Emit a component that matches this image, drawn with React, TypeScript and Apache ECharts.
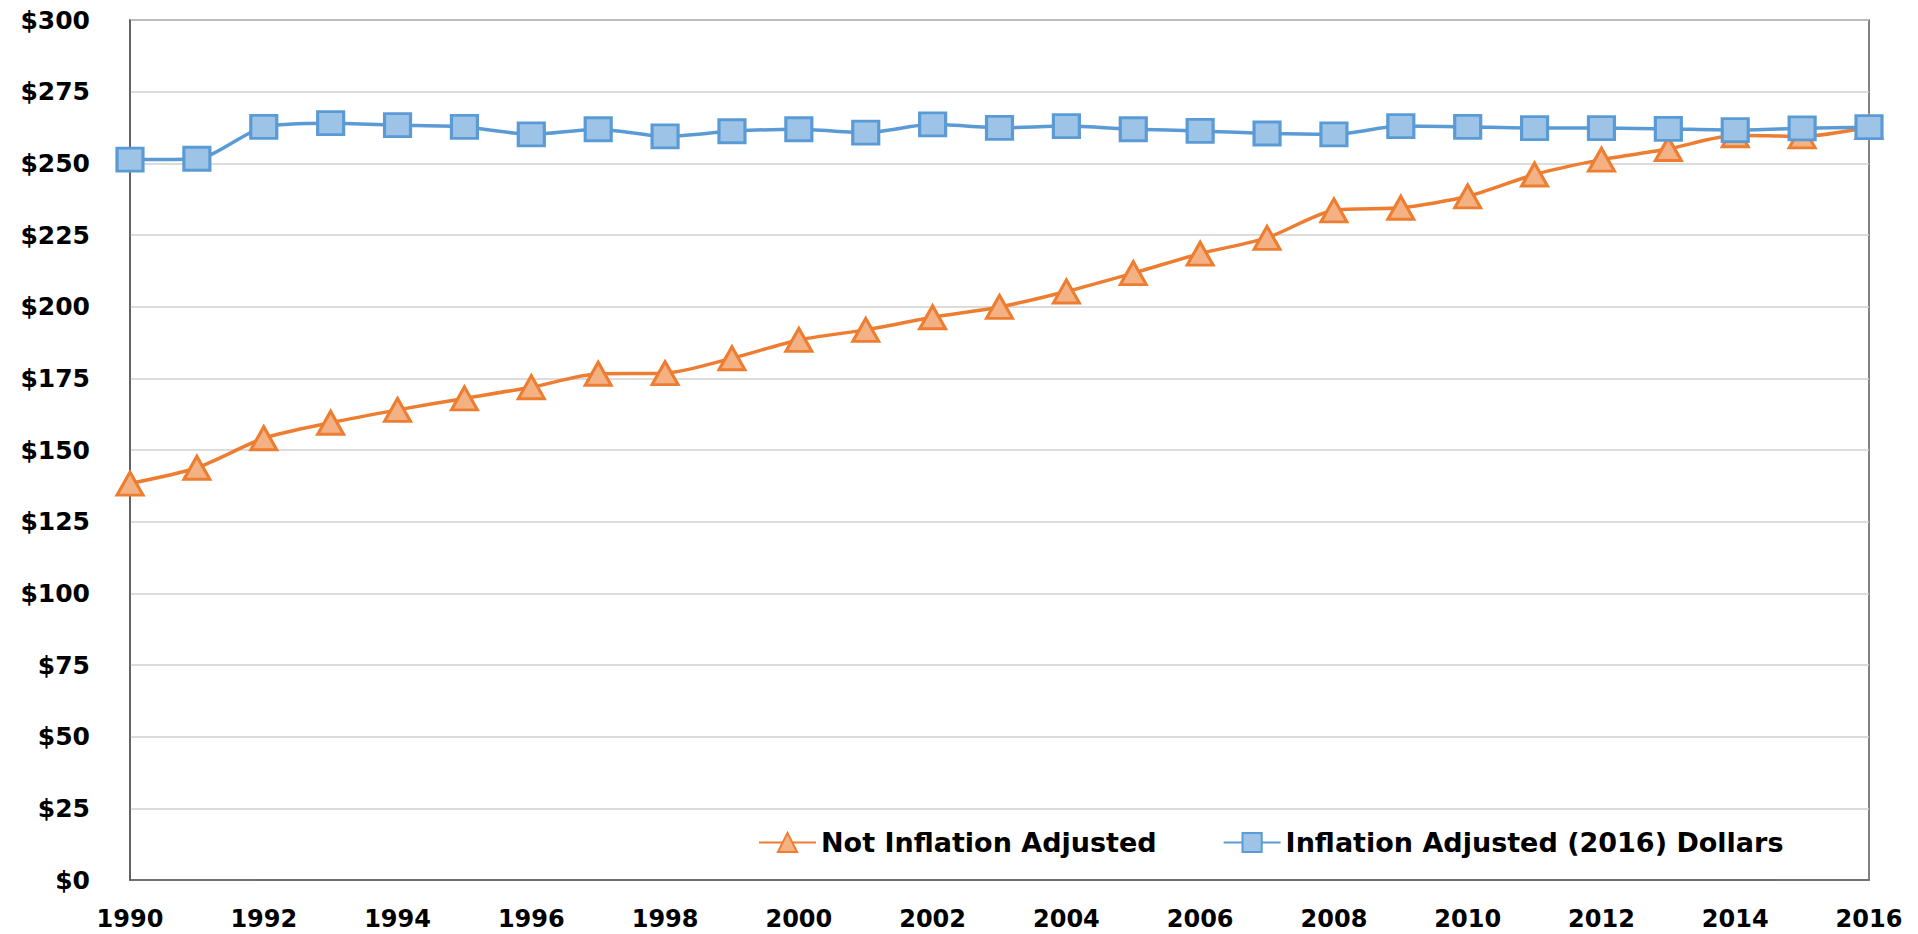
import React, { useEffect, useRef } from "react";
import * as echarts from "echarts";

const years: string[] = [
  "1990", "1991", "1992", "1993", "1994", "1995", "1996", "1997", "1998",
  "1999", "2000", "2001", "2002", "2003", "2004", "2005", "2006", "2007",
  "2008", "2009", "2010", "2011", "2012", "2013", "2014", "2015", "2016",
];

const notInflationAdjusted: number[] = [
  138.3, 143.8, 154.1, 159.5, 164.0, 168.0, 171.9, 176.6, 176.8,
  182.0, 188.4, 191.9, 196.3, 199.9, 205.3, 211.7, 218.5, 224.0,
  233.6, 234.5, 238.5, 246.1, 251.3, 255.0, 259.8, 259.4, 262.6,
];

const inflationAdjusted: number[] = [
  251.3, 251.6, 262.7, 264.0, 263.3, 262.7, 260.1, 261.9, 259.4,
  261.2, 261.9, 260.7, 263.6, 262.4, 263.0, 261.9, 261.3, 260.4,
  260.1, 263.0, 262.7, 262.3, 262.3, 262.0, 261.6, 262.2, 262.6,
];

const seriesNames: string[] = [
  "Not Inflation Adjusted",
  "Inflation Adjusted (2016) Dollars",
];

const FONT = "'DejaVu Sans', 'Liberation Sans', sans-serif";

export default function App() {
  const ref = useRef<HTMLDivElement>(null);

  useEffect(() => {
    if (!ref.current) return;
    const chart = echarts.init(ref.current, undefined, { renderer: "svg" });
    chart.setOption({
      animation: false,
      backgroundColor: "#ffffff",
      grid: {
        left: 130,
        right: 49,
        top: 20,
        bottom: 54,
        show: true,
        borderColor: "#595959",
        borderWidth: 1.5,
        containLabel: false,
      },
      legend: {
        left: 753,
        top: 824,
        itemWidth: 57,
        itemHeight: 24,
        itemGap: 66,
        textStyle: {
          fontFamily: FONT,
          fontWeight: "bold",
          fontSize: 27,
          color: "#000000",
        },
        data: seriesNames,
      },
      xAxis: {
        type: "category",
        data: years,
        boundaryGap: false,
        axisLine: { show: true, lineStyle: { color: "#595959", width: 1.5 } },
        axisTick: { show: false },
        splitLine: { show: false },
        axisLabel: {
          interval: 1,
          margin: 27,
          fontFamily: FONT,
          fontWeight: "bold",
          fontSize: 24,
          color: "#000000",
        },
      },
      yAxis: {
        type: "value",
        min: 0,
        max: 300,
        interval: 25,
        axisLine: { show: true, lineStyle: { color: "#595959", width: 1.5 } },
        axisTick: { show: false },
        splitLine: { show: true, lineStyle: { color: "#D0D0D0", width: 1.5 } },
        axisLabel: {
          margin: 40,
          fontFamily: FONT,
          fontWeight: "bold",
          fontSize: 25,
          color: "#000000",
          formatter: (v: number) => "$" + v,
        },
      },
      series: [
        {
          name: seriesNames[0],
          type: "line",
          data: notInflationAdjusted,
          smooth: 0.25,
          symbol: "triangle",
          symbolSize: [26, 23],
          z: 2,
          lineStyle: { color: "#ED7D31", width: 3.5 },
          itemStyle: { color: "#F4B183", borderColor: "#ED7D31", borderWidth: 3 },
        },
        {
          name: seriesNames[1],
          type: "line",
          data: inflationAdjusted,
          smooth: 0.25,
          symbol: "rect",
          symbolSize: [26, 23],
          z: 3,
          lineStyle: { color: "#5B9BD5", width: 3.5 },
          itemStyle: { color: "#9DC3E6", borderColor: "#5B9BD5", borderWidth: 3 },
        },
      ],
    });
    return () => chart.dispose();
  }, []);

  return (
    <div
      ref={ref}
      style={{ position: "fixed", left: 0, top: 0, width: 1918, height: 934, background: "#fff" }}
    />
  );
}
